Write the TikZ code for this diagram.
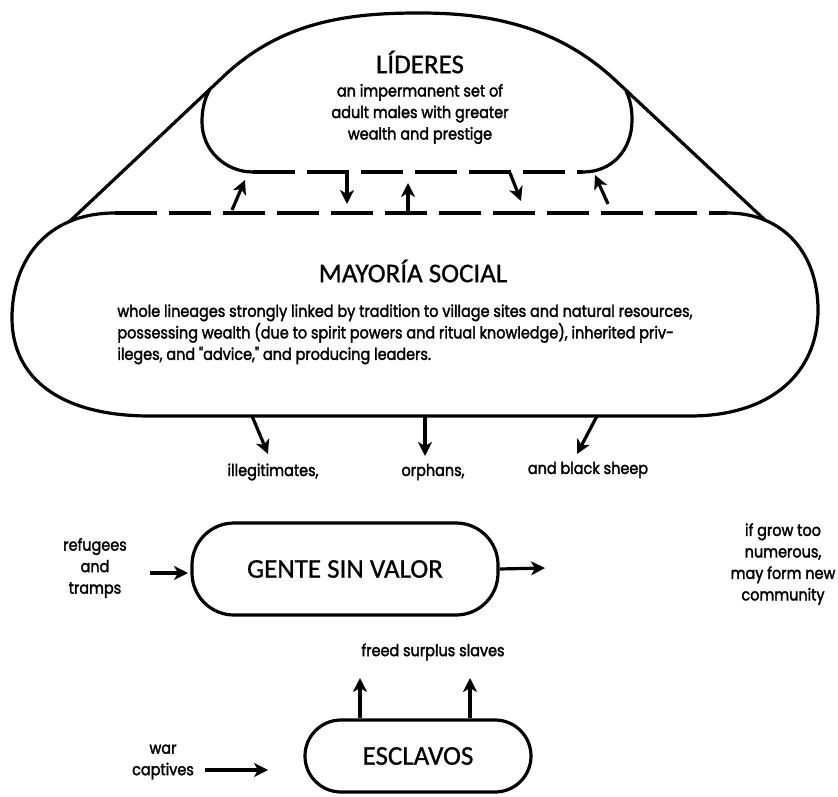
\documentclass[tikz,border=0pt]{standalone}
\usepackage{fontspec}
\setmainfont{Carlito}[FakeBold=0.8]
\newfontfamily\headf[FakeBold=0.8]{Carlito}
\newfontfamily\bodyf[FakeStretch=0.88,FakeBold=2]{Poppins}
\usetikzlibrary{arrows.meta}
\begin{document}
\begin{tikzpicture}[x=0.5pt,y=-0.5pt,
  line/.style={line width=1.6pt},
  dsh/.style={line width=1.6pt, dash pattern=on 21pt off 6pt},
  arr/.style={line width=1.6pt,-{Stealth[length=7pt,width=7pt,inset=2pt]}},
  head/.style={font=\headf\fontsize{13.5}{16}\selectfont, inner sep=0pt},
  body/.style={font=\bodyf\fontsize{8.2}{10.75}\selectfont, inner sep=0pt, align=center},
  capsule/.style={draw, line width=1.6pt, head}]
\useasboundingbox[fill=white] (0,0) rectangle (838,796);

% Mayoria social outline
\draw[line] (115,213) .. controls (45,213) and (12,262) .. (12,318)
  .. controls (12,378) and (60,416) .. (150,416) -- (690,416)
  .. controls (772,416) and (818,372) .. (818,310)
  .. controls (818,255) and (785,213) .. (727,213);
\draw[dsh] (115,213) -- (727,213);

% Outer tent
\draw[line] (69,222) -- (225,75) .. controls (285,19) and (355,13) .. (420,13)
  .. controls (485,13) and (555,24) .. (615,80) -- (766,221);

% Lideres inner sides
\draw[line] (210,89) .. controls (204,100) and (202,110) .. (202,122)
  .. controls (202,150) and (225,172) .. (253,172);
\draw[line] (583,172) .. controls (612,172) and (632,150) .. (632,120)
  .. controls (632,108) and (630,99) .. (626,91);
\draw[dsh] (253,172) -- (583,172);

% texts
\node[head] (lidT) at (420,62) {LÍDERES};
\node[body] (lidB) at (420,114) {an impermanent set of\\adult males with greater\\wealth and prestige};
\node[head] (mayT) at (413,271) {MAYORÍA SOCIAL};
\node[body, align=left, anchor=north west] (mayB) at (117,304) {whole lineages strongly linked by tradition to village sites and natural resources,\\possessing wealth (due to spirit powers and ritual knowledge), inherited priv-\\ileges, and "advice," and producing leaders.};

% arrows between lideres and mayoria
\coordinate (a1s) at (232,210); \coordinate (a1e) at (245,180);
\coordinate (a2s) at (347,172); \coordinate (a2e) at (347,204);
\coordinate (a3s) at (408,213); \coordinate (a3e) at (408,183);
\coordinate (a4s) at (510,173); \coordinate (a4e) at (521,201);
\coordinate (a5s) at (608,204); \coordinate (a5e) at (595,175);
\foreach \i in {1,...,5} \draw[arr] (a\i s) -- (a\i e);

% outflows from mayoria
\node[body] (ill) at (273,472) {illegitimates,};
\node[body] (orp) at (433,472) {orphans,};
\node[body] (bls) at (588,470) {and black sheep};
\coordinate (b1) at (252,416); \coordinate (b2) at (425,416); \coordinate (b3) at (597,416);
\draw[arr] (b1) -- (268,454);
\draw[arr] (b2) -- (425,456);
\draw[arr] (b3) -- (577,454);

% gente sin valor
\node[capsule, minimum width=153pt, minimum height=46pt, rounded corners=21pt] (gente) at (345,569) {GENTE SIN VALOR};
\node[body] (ref) at (95,568) {refugees\\and\\tramps};
\coordinate (refE) at (188,573);
\draw[arr] (150,573) -- (refE);
\node[body] (grow) at (783,564) {if grow too\\numerous,\\may form new\\community};
\coordinate (growW) at (545,568);
\draw[arr] (gente.east) -- (growW);

% esclavos
\node[body] (freed) at (433,652) {freed surplus slaves};
\node[capsule, minimum width=113pt, minimum height=36pt, rounded corners=18pt] (escl) at (418,756) {ESCLAVOS};
\coordinate (f1) at (360,678); \coordinate (f2) at (470,678);
\draw[arr] (escl.north -| f1) -- (f1);
\draw[arr] (escl.north -| f2) -- (f2);
\node[body] (war) at (163,762) {war\\captives};
\coordinate (warE) at (268,770);
\draw[arr] (205,770) -- (warE);
\end{tikzpicture}
\end{document}
